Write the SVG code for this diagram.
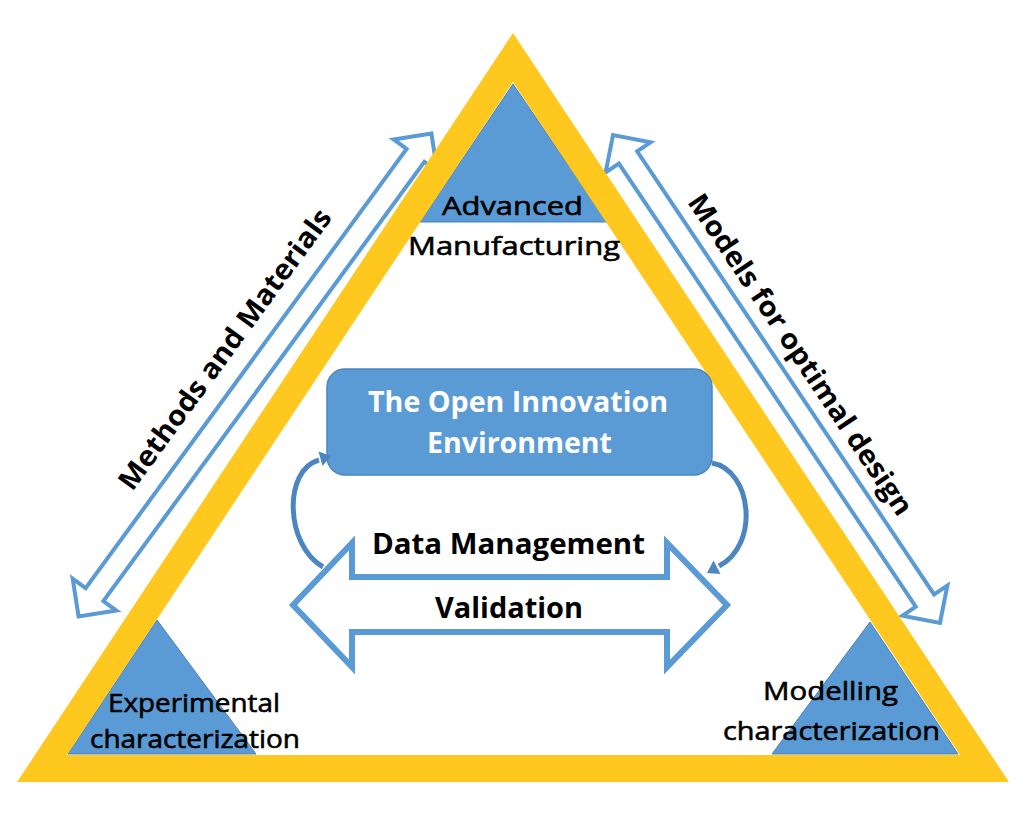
<svg xmlns="http://www.w3.org/2000/svg" width="1030" height="821" viewBox="0 0 1030 821">
<defs>
<style>
.tri{fill:#5B9BD5;stroke:#4A80B8;stroke-width:1}
.band{fill:#FFC81E;fill-rule:evenodd}
.harrow{fill:#FFFFFF;stroke:#5B9BD5;stroke-width:4;stroke-linejoin:miter}
.bigarrow{fill:#FFFFFF;stroke:#5B9BD5;stroke-width:6;stroke-linejoin:miter}
.curve{fill:none;stroke:#4C86C0;stroke-width:5;stroke-linecap:butt}
.curvehead{fill:#4C86C0}
.lbl{font-family:"Open Sans","Liberation Sans",sans-serif;fill:#000000}
.reg{font-weight:400;font-size:26px;stroke:#000000;stroke-width:0.6}
.bold{font-weight:700;font-size:28px}
.white{fill:#FFFFFF}
</style>
</defs>
<rect x="0" y="0" width="1030" height="821" fill="#FFFFFF"/>

<g id="connectors">
  <g id="arrow-methods" transform="translate(255,375) rotate(-53.84)">
    <path class="harrow" d="M299,0 L272,-27 L272,-11 L-272,-11 L-272,-27 L-299,0 L-272,27 L-272,11 L272,11 L272,27 Z"/>
  </g>
  <g id="arrow-models" transform="translate(776.5,379) rotate(56.18)">
    <path class="harrow" d="M293.7,0 L266.7,-27 L266.7,-11 L-266.7,-11 L-266.7,-27 L-293.7,0 L-266.7,27 L-266.7,11 L266.7,11 L266.7,27 Z"/>
  </g>
</g>

<g id="node-advanced-manufacturing">
  <polygon class="tri" points="513,84 420,222 607,222"/>
</g>
<g id="node-experimental">
  <polygon class="tri" points="157,620 68,754 256,754"/>
</g>
<g id="node-modelling">
  <polygon class="tri" points="870,622 772,754 958,754"/>
</g>

<g id="frame">
  <path class="band" d="M513,33 L1009,782 L17,782 Z M513,82 L67,755 L960,755 Z"/>
</g>

<g id="labels-edges">
  <g transform="translate(255,375) rotate(-53.84)">
    <text class="lbl bold" x="-167" y="-30" font-size="29" textLength="340" lengthAdjust="spacingAndGlyphs">Methods and Materials</text>
  </g>
  <g transform="translate(776.5,379) rotate(56.18)">
    <text class="lbl bold" x="-197" y="-24" font-size="29" textLength="380" lengthAdjust="spacingAndGlyphs">Models for optimal design</text>
  </g>
</g>

<g id="node-advanced-text">
  <text class="lbl reg" x="442" y="215" textLength="141" lengthAdjust="spacingAndGlyphs">Advanced</text>
  <text class="lbl reg" x="408" y="255" textLength="212" lengthAdjust="spacingAndGlyphs">Manufacturing</text>
</g>
<g id="node-experimental-text">
  <text class="lbl reg" x="108" y="712" font-size="25" textLength="172" lengthAdjust="spacingAndGlyphs">Experimental</text>
  <text class="lbl reg" x="90" y="748" font-size="25" textLength="210" lengthAdjust="spacingAndGlyphs">characterization</text>
</g>
<g id="node-modelling-text">
  <text class="lbl reg" x="763" y="700" font-size="25" textLength="135" lengthAdjust="spacingAndGlyphs">Modelling</text>
  <text class="lbl reg" x="723" y="740" font-size="25" textLength="217" lengthAdjust="spacingAndGlyphs">characterization</text>
</g>

<g id="node-open-innovation">
  <rect x="327" y="369" width="385" height="106" rx="18" ry="18" fill="#5B9BD5" stroke="#4A86C0" stroke-width="1.5"/>
  <text class="lbl bold white" x="368" y="412" textLength="300" lengthAdjust="spacingAndGlyphs">The Open Innovation</text>
  <text class="lbl bold white" x="427" y="453" textLength="185" lengthAdjust="spacingAndGlyphs">Environment</text>
</g>

<g id="cycle-connectors">
  <path class="curve" d="M323,567 C285,545 283,470 319,460"/>
  <polygon class="curvehead" points="331,456 318.5,451.5 322.5,466"/>
  <path class="curve" d="M712,463 C752,470 760,545 719,566"/>
  <polygon class="curvehead" points="707,573 713.5,560.5 720.5,574"/>
</g>

<g id="node-data-validation">
  <path class="bigarrow" d="M293,605 L352,543 L352,577 L667,577 L667,543 L727,605 L667,667 L667,632 L352,632 L352,667 Z"/>
  <text class="lbl bold" x="372" y="554" textLength="273" lengthAdjust="spacingAndGlyphs">Data Management</text>
  <text class="lbl bold" x="435" y="618" textLength="148" lengthAdjust="spacingAndGlyphs">Validation</text>
</g>
</svg>
